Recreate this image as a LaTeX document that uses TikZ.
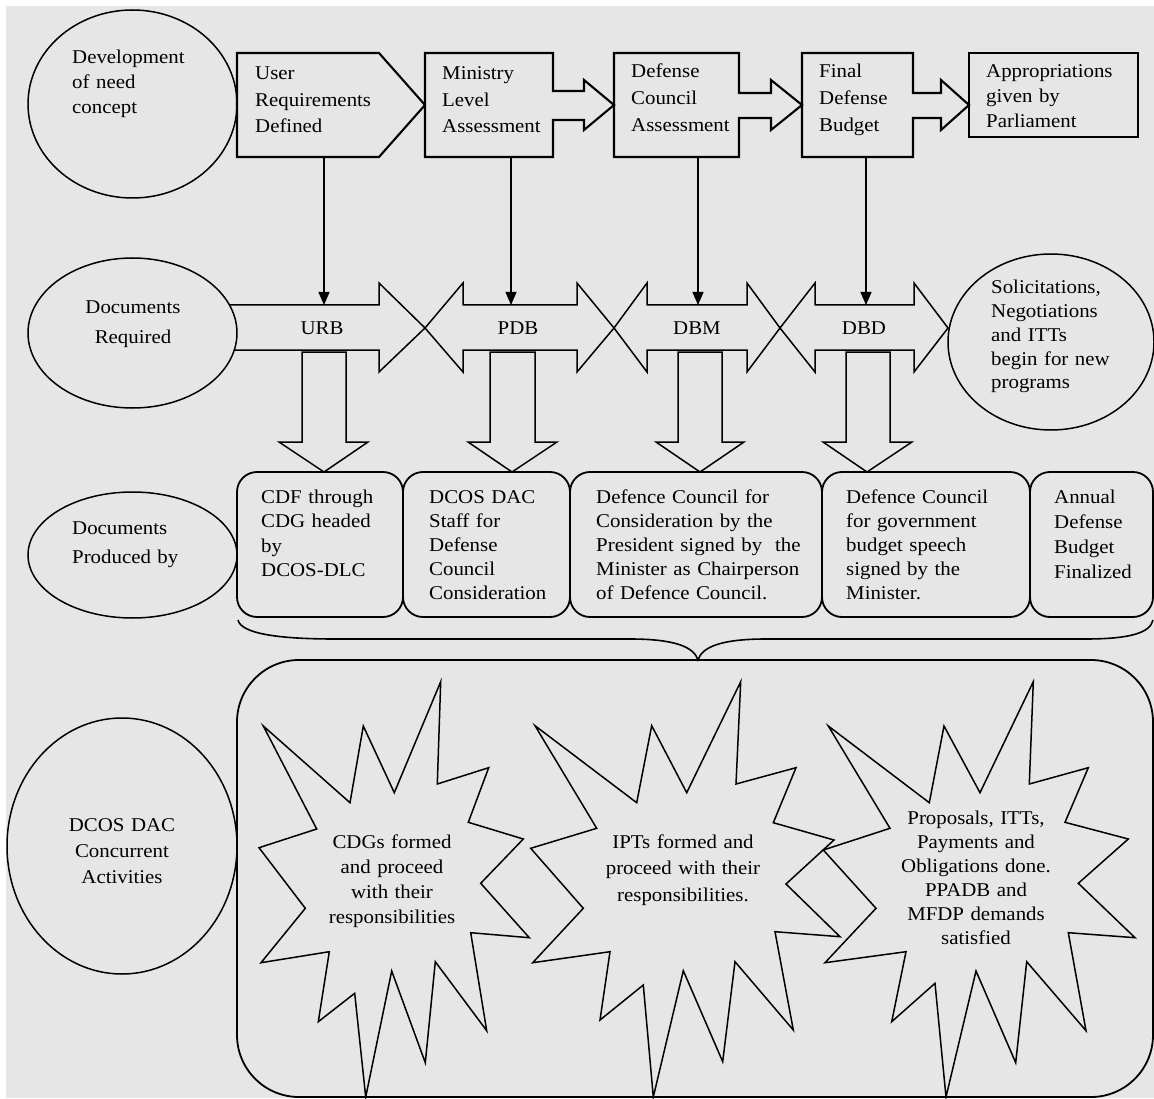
\documentclass[tikz,border=0pt]{standalone}
\usepackage{fontspec}
\setmainfont{Liberation Serif}[FakeStretch=1.07]
\usetikzlibrary{shapes.geometric,arrows.meta}
\definecolor{bg}{RGB}{230,230,230}
\begin{document}
\begin{tikzpicture}[x=1pt,y=-1pt,
  ln/.style={draw=black,line width=1.5pt,line join=miter},
  tb/.style={draw=black,line width=2.1pt,line join=miter},
  ell/.style={ellipse,draw=black,line width=1.5pt,inner sep=0pt},
  rbox/.style={rectangle,draw=black,line width=1.8pt,rounded corners=20pt,inner sep=0pt},
  conn/.style={draw=black,line width=1.3pt,-{Triangle[length=13pt,width=11pt]}},
  lt/.style={inner sep=0pt,anchor=base west,align=left,text width=240pt},
  ct/.style={inner sep=0pt,anchor=base,align=center,text width=240pt},
  lab/.style={inner sep=0pt,anchor=center,font=\fontsize{19.5}{24}\selectfont}
]
\useasboundingbox (0,0) rectangle (1154,1099);
\fill[white] (0,0) rectangle (1154,1099);
\fill[bg] (6,6) rectangle (1154,1098);

% ---------- row 1 ----------
\node[ell,minimum width=209pt,minimum height=188pt] (devc) at (132.5,104) {};
\node[lt,font=\fontsize{19.5}{25}\selectfont] (devt) at (72,64) {Development\\of need\\concept};

\draw[tb] (237,53) -- (379,53) -- (425,105) -- (379,157) -- (237,157) -- cycle;
\node[lt,font=\fontsize{19.5}{26.5}\selectfont] (urdt) at (255,80) {User\\Requirements\\Defined};

\draw[tb] (425,53) -- (553,53) -- (553,91) -- (584,91) -- (584,80) -- (614,105) -- (584,130) -- (584,120) -- (553,120) -- (553,157) -- (425,157) -- cycle;
\node[lt,font=\fontsize{19.5}{26.5}\selectfont] (mlat) at (442,80) {Ministry\\Level\\Assessment};

\draw[tb] (614,53) -- (739,53) -- (739,93) -- (771,93) -- (771,80) -- (802,105) -- (771,130) -- (771,118) -- (739,118) -- (739,157) -- (614,157) -- cycle;
\node[lt,font=\fontsize{19.5}{27}\selectfont] (dcat) at (631,78) {Defense\\Council\\Assessment};

\draw[tb] (802,53) -- (913,53) -- (913,93) -- (941,93) -- (941,80) -- (969,105) -- (941,130) -- (941,118) -- (913,118) -- (913,157) -- (802,157) -- cycle;
\node[lt,font=\fontsize{19.5}{27}\selectfont] (fdbt) at (819,78) {Final\\Defense\\Budget};

\node[rectangle,draw=black,line width=1.6pt,inner sep=0pt,minimum width=169pt,minimum height=84pt] (apb) at (1053.5,95) {};
\node[lt,font=\fontsize{19.5}{25}\selectfont] (apbt) at (986,78) {Appropriations\\given by\\Parliament};

% connectors
\coordinate (b1s) at (324,157); \coordinate (u1) at (324,305);
\coordinate (b2s) at (511,157); \coordinate (u2) at (511,305);
\coordinate (b3s) at (698,157); \coordinate (u3) at (698,305);
\coordinate (b4s) at (866,157); \coordinate (u4) at (866,305);
\draw[conn] (b1s) -- (u1);
\draw[conn] (b2s) -- (u2);
\draw[conn] (b3s) -- (u3);
\draw[conn] (b4s) -- (u4);

% ---------- row 2 ----------
\node[ell,minimum width=209pt,minimum height=150pt] (docreq) at (132.5,333) {};
\node[ct,font=\fontsize{19.5}{29}\selectfont] (docreqt) at (133,314) {Documents\\Required};

\draw[ln] (229.5,305) -- (379,305) -- (379,283) -- (425,328) -- (379,372) -- (379,350) -- (234.3,350);
\draw[ln] (425,328) -- (463,283) -- (463,305) -- (577,305) -- (577,283) -- (614,328) -- (577,372) -- (577,350) -- (463,350) -- (463,372) -- cycle;
\draw[ln] (614,328) -- (647,283) -- (647,305) -- (747,305) -- (747,283) -- (780,328) -- (747,372) -- (747,350) -- (647,350) -- (647,372) -- cycle;
\draw[ln] (780,328) -- (815,283) -- (815,305) -- (914,305) -- (914,283) -- (948,328) -- (914,372) -- (914,350) -- (815,350) -- (815,372) -- cycle;
\node[lab] (urb) at (322,328) {URB};
\node[lab] (pdb) at (518,328) {PDB};
\node[lab] (dbm) at (697,328) {DBM};
\node[lab] (dbd) at (864,328) {DBD};

\node[ell,minimum width=206pt,minimum height=176pt] (sol) at (1051,342) {};
\node[lt,font=\fontsize{19.5}{23.7}\selectfont] (solt) at (991,294) {Solicitations,\\Negotiations\\and ITTs\\begin for new\\programs};

% block arrows down
\draw[ln] (302,352) -- (346,352) -- (346,442) -- (368,442) -- (324,472) -- (279,442) -- (302,442) -- cycle;
\draw[ln] (490,352) -- (535,352) -- (535,442) -- (557,442) -- (512,472) -- (468,442) -- (490,442) -- cycle;
\draw[ln] (678,352) -- (722,352) -- (722,442) -- (744,442) -- (700,472) -- (656,442) -- (678,442) -- cycle;
\draw[ln] (846,352) -- (890,352) -- (890,442) -- (912,442) -- (867,472) -- (823,442) -- (846,442) -- cycle;

% ---------- row 3 ----------
\node[ell,minimum width=209pt,minimum height=126pt] (docprod) at (132.5,555) {};
\node[lt,font=\fontsize{19.5}{29}\selectfont] (docprodt) at (72,534) {Documents\\Produced by};

\node[rbox,minimum width=166pt,minimum height=145pt] (p1) at (320,544.5) {};
\node[rbox,minimum width=167pt,minimum height=145pt] (p2) at (486.5,544.5) {};
\node[rbox,minimum width=252pt,minimum height=145pt] (p3) at (696,544.5) {};
\node[rbox,minimum width=208pt,minimum height=145pt] (p4) at (926,544.5) {};
\node[rbox,minimum width=123pt,minimum height=145pt] (p5) at (1091.5,544.5) {};
\node[lt,font=\fontsize{19.5}{24.5}\selectfont] (p1t) at (261,503) {CDF through\\CDG headed\\by\\DCOS-DLC};
\node[lt,font=\fontsize{19.5}{24}\selectfont] (p2t) at (429,503) {DCOS DAC\\Staff for\\Defense\\Council\\Consideration};
\node[lt,font=\fontsize{19.5}{24}\selectfont] (p3t) at (596,503) {Defence Council for\\Consideration by the\\President signed by~ the\\Minister as Chairperson\\of Defence Council.};
\node[lt,font=\fontsize{19.5}{24}\selectfont] (p4t) at (846,503) {Defence Council\\for government\\budget speech\\signed by the\\Minister.};
\node[lt,font=\fontsize{19.5}{25}\selectfont] (p5t) at (1054,503) {Annual\\Defense\\Budget\\Finalized};

% brace
\coordinate (brl) at (238,620);
\coordinate (brm) at (698,660);
\coordinate (brr) at (1153,620);
\draw[ln,line width=1.6pt] (brl) .. controls (241,633) and (275,639) .. (335,639) -- (630,639) .. controls (675,639) and (694,647) .. (brm)
  .. controls (702,647) and (721,639) .. (766,639) -- (1085,639) .. controls (1130,639) and (1150,633) .. (brr);

% ---------- bottom ----------
\node[rectangle,draw=black,line width=1.8pt,rounded corners=62pt,inner sep=0pt,minimum width=916pt,minimum height=437pt] (conc) at (695,878.5) {};
\node[ell,minimum width=230pt,minimum height=256pt] (dcos) at (122,846) {};
\node[ct,font=\fontsize{19.5}{26}\selectfont] (dcost) at (122,831) {DCOS DAC\\Concurrent\\Activities};

\draw[ln] (263.3,726) -- (350,802.7) -- (363.3,726) -- (394.3,792.7) -- (440.7,681.7) -- (437.3,784) -- (488.7,767.7) -- (468.3,822.3) -- (523.3,839) -- (480.7,883.3) -- (529.3,937.7) -- (470.7,932.7) -- (486.7,1030.7) -- (435.3,961.7) -- (425.3,1062.7) -- (391.7,971) -- (365.7,1097) -- (354.7,993.3) -- (318.3,1021.7) -- (329.3,951.7) -- (261,962.7) -- (305.3,908.3) -- (259,847.7) -- (316.7,829) -- cycle;
\node[ct,font=\fontsize{19.5}{25}\selectfont] (s1t) at (392,848) {CDGs formed\\and proceed\\with their\\responsibilities};

\draw[ln] (535,725.7) -- (636.7,802.7) -- (651.7,725.7) -- (686.7,792.7) -- (740.7,681.7) -- (736,784) -- (796,767.7) -- (773.3,822.7) -- (834,840) -- (786,884) -- (840,936.7) -- (775,931.7) -- (793.3,1030) -- (735,961.7) -- (722.7,1061.7) -- (683.3,970.7) -- (653.3,1097) -- (643.3,985) -- (600,1020) -- (610,951.7) -- (532.7,962.7) -- (583.3,908.3) -- (530.7,848.3) -- (596.7,828.3) -- cycle;
\node[ct,font=\fontsize{19.5}{26.5}\selectfont] (s2t) at (683,848) {IPTs formed and\\proceed with their\\responsibilities.};

\draw[ln] (828.3,726) -- (929.3,802.7) -- (944,726) -- (980,792.7) -- (1033.3,681.7) -- (1029.3,784) -- (1088.3,767.7) -- (1065,822.3) -- (1128.3,839) -- (1078.3,883.3) -- (1135,937.7) -- (1068.3,932.7) -- (1086,1030.7) -- (1026.7,961.7) -- (1015.7,1062.7) -- (976,971) -- (946,1097) -- (935,983.3) -- (891.7,1021.7) -- (906,951.7) -- (825,962.7) -- (876,908.3) -- (823.3,850) -- (890,828.3) -- cycle;
\node[ct,font=\fontsize{19.5}{24}\selectfont] (s3t) at (976,824) {Proposals, ITTs,\\Payments and\\Obligations done.\\PPADB and\\MFDP demands\\satisfied};
\end{tikzpicture}
\end{document}
